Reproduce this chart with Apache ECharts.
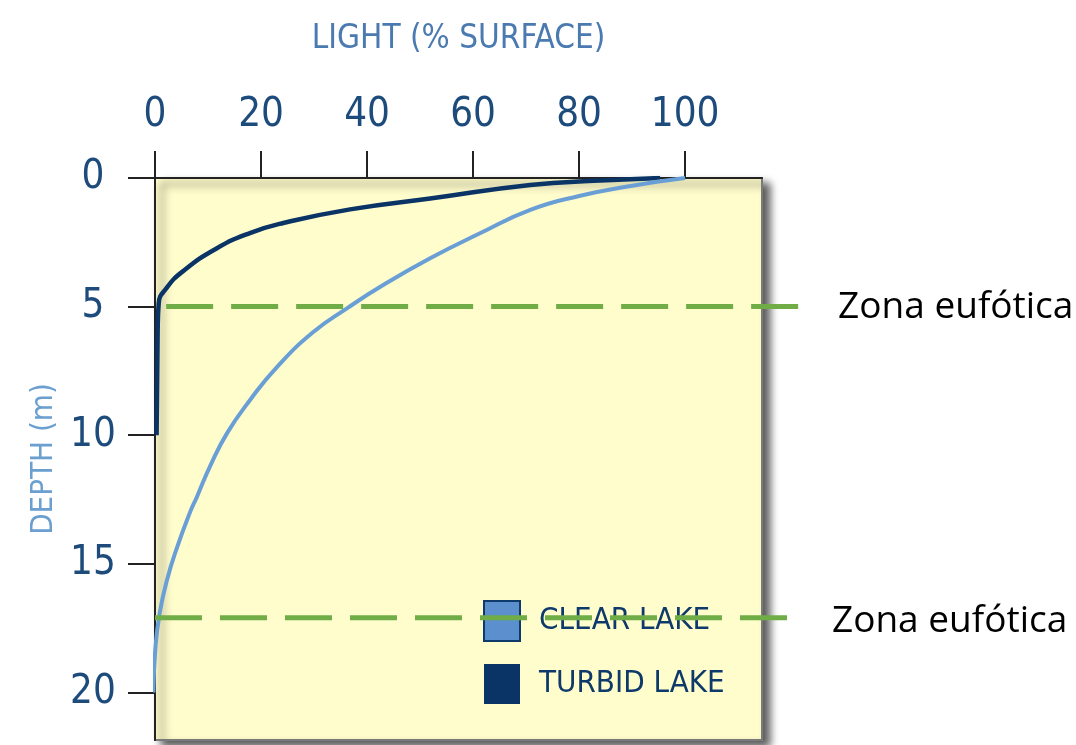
<!DOCTYPE html>
<html>
<head>
<meta charset="utf-8">
<title>Light vs depth</title>
<script src="https://cdn.jsdelivr.net/npm/echarts@6/dist/echarts.min.js"></script>
<style>
  html, body { margin: 0; padding: 0; background: #fff; }
  #main { width: 1076px; height: 745px; }
</style>
</head>
<body>
<div id="main"></div>
<script type="text/javascript">
// light (% surface) vs depth (m)
var clearLake = [
    [100, 0], [90, 0.3], [80, 0.7], [70.8, 1.24], [61.3, 2.15], [51.9, 3.12], [42.5, 4.23],
    [36.2, 5.07], [29.8, 6.0], [23, 7.35], [17.9, 8.64], [13.6, 9.92], [10.4, 11.2],
    [7.9, 12.4], [6.6, 13.0], [4.1, 14.4], [2.3, 15.6], [0.9, 16.9], [0.1, 18.2], [-0.3, 20]
];
var turbidLake = [
    [95.3, 0], [84, 0.1], [70.8, 0.27], [51.9, 0.8], [36.8, 1.22], [24.2, 1.75],
    [17.9, 2.14], [11.6, 2.74], [5.3, 3.62], [2.2, 4.27], [0.7, 4.87], [0.5, 6], [0.3, 10]
];
var lightTicks = [0, 20, 40, 60, 80, 100];
var depthTicks = [0, 5, 10, 15, 20];
// euphotic zone limits: depth, x start, x end
var zoneDepths = [5, 17.1];
var zoneStart = [2.1, 0];
var zoneEnd = [123.2, 121.1];
var zoneLabel = 'Zona eufótica';

var narrow = '"Liberation Sans Narrow", "DejaVu Sans Condensed", sans-serif';

var zoneData = zoneDepths.map(function (d, i) {
    return [zoneStart[i], zoneEnd[i], d];
});

var myChart = echarts.init(document.getElementById('main'));

myChart.setOption({
    animation: false,
    grid: {
        left: 155, top: 178, right: 314, bottom: 5,
        show: true,
        backgroundColor: '#fffdcc',
        borderColor: '#7a7a7a',
        borderWidth: 2,
        shadowColor: 'rgba(0,0,0,0.65)',
        shadowBlur: 8,
        shadowOffsetX: 7,
        shadowOffsetY: 6
    },
    legend: {
        left: 483, top: 600,
        padding: 0,
        orient: 'vertical',
        itemWidth: 36, itemHeight: 40, itemGap: 22,
        textStyle: { color: '#0e3a6b', fontFamily: narrow, fontSize: 31, padding: [0, 0, 0, 14] },
        data: [
            { name: 'CLEAR LAKE', icon: 'rect', itemStyle: { color: '#5b8fcd', borderColor: '#0e3a6b', borderWidth: 2 } },
            { name: 'TURBID LAKE', icon: 'rect', itemStyle: { color: '#0a3466', borderWidth: 0 } }
        ],
        selectedMode: false
    },
    xAxis: {
        type: 'value',
        position: 'top',
        min: 0, max: 114.5,
        name: 'LIGHT (% SURFACE)',
        nameLocation: 'middle',
        nameGap: 122,
        nameTextStyle: { color: '#4a7ab0', fontFamily: narrow, fontSize: 33 },
        axisLine: { lineStyle: { color: '#222', width: 2 } },
        axisTick: { length: 27, customValues: lightTicks, lineStyle: { color: '#222', width: 2 } },
        axisLabel: { customValues: lightTicks, margin: 42, color: '#1d4b7c', fontFamily: narrow, fontSize: 40 },
        splitLine: { show: false }
    },
    yAxis: {
        type: 'value',
        inverse: true,
        min: 0, max: 21.85,
        name: 'DEPTH (m)',
        nameLocation: 'middle',
        nameGap: 96,
        nameTextStyle: { color: '#6a9fd0', fontFamily: narrow, fontSize: 31 },
        axisLine: { lineStyle: { color: '#222', width: 2 } },
        axisTick: { length: 27, customValues: depthTicks, lineStyle: { color: '#222', width: 2 } },
        axisLabel: { customValues: depthTicks, margin: 62, align: 'center', color: '#1d4b7c', fontFamily: narrow, fontSize: 40 },
        splitLine: { show: false }
    },
    series: [
        {
            type: 'line',
            name: 'TURBID LAKE',
            data: turbidLake,
            smooth: 0.5,
            symbol: 'none',
            z: 3,
            lineStyle: { color: '#0a3466', width: 4.5 },
            itemStyle: { color: '#0a3466' }
        },
        {
            type: 'line',
            name: 'CLEAR LAKE',
            data: clearLake,
            smooth: 0.5,
            symbol: 'none',
            z: 4,
            lineStyle: { color: '#6a9fd6', width: 4 },
            itemStyle: { color: '#5b8fcd' }
        },
        {
            type: 'custom',
            name: 'zones',
            data: zoneData,
            encode: { x: [0, 1], y: 2 },
            clip: false,
            silent: true,
            z: 5,
            renderItem: function (params, api) {
                var p0 = api.coord([api.value(0), api.value(2)]);
                var p1 = api.coord([api.value(1), api.value(2)]);
                var gap = params.dataIndex === 0 ? 30 : 35;
                var dy = params.dataIndex === 0 ? 1 : 4;
                return {
                    type: 'group',
                    children: [
                        {
                            type: 'line',
                            shape: { x1: p0[0], y1: p0[1], x2: p1[0], y2: p1[1] },
                            style: { stroke: '#70ad47', lineWidth: 5, lineDash: [47, 18] }
                        },
                        {
                            type: 'text',
                            x: p1[0] + gap,
                            y: p1[1] + dy,
                            style: {
                                text: zoneLabel,
                                fill: '#000',
                                font: '37px "Open Sans", "Noto Sans", sans-serif',
                                verticalAlign: 'middle',
                                align: 'left'
                            }
                        }
                    ]
                };
            }
        }
    ]
});
</script>
</body>
</html>
